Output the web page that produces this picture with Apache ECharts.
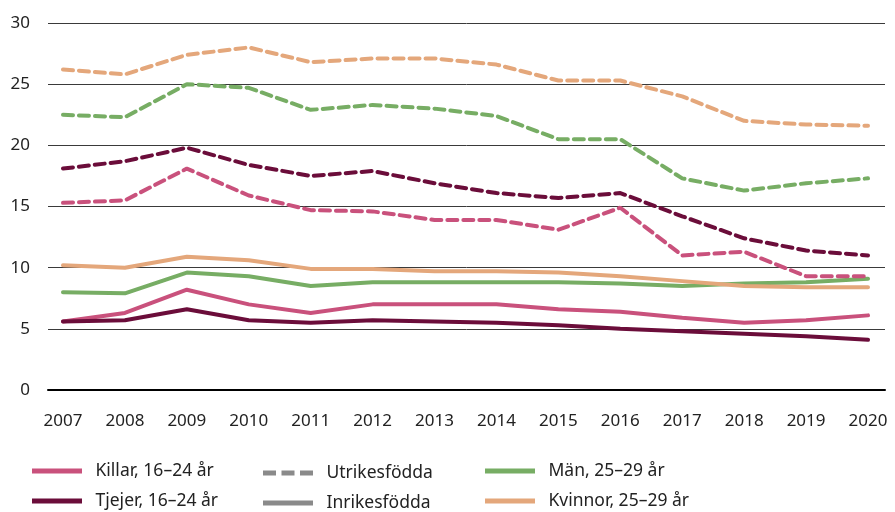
<!DOCTYPE html>
<html>
<head>
<meta charset="utf-8">
<script src="https://cdn.jsdelivr.net/npm/echarts@6/dist/echarts.min.js"></script>
<style>
  html, body { margin: 0; padding: 0; background: #fff; }
  #chart { width: 895px; height: 512px; }
</style>
</head>
<body>
<div id="chart"></div>
<script>
const years = ['2007', '2008', '2009', '2010', '2011', '2012', '2013', '2014', '2015', '2016', '2017', '2018', '2019', '2020'];

// utrikesfödda (dashed)
const killarUtr = [15.3, 15.5, 18.1, 15.9, 14.7, 14.6, 13.9, 13.9, 13.1, 14.9, 11.0, 11.3, 9.3, 9.3];
const tjejerUtr = [18.1, 18.7, 19.8, 18.4, 17.5, 17.9, 16.9, 16.1, 15.7, 16.1, 14.2, 12.4, 11.4, 11.0];
const manUtr = [22.5, 22.3, 25.0, 24.7, 22.9, 23.3, 23.0, 22.4, 20.5, 20.5, 17.3, 16.3, 16.9, 17.3];
const kvinnorUtr = [26.2, 25.8, 27.4, 28.0, 26.8, 27.1, 27.1, 26.6, 25.3, 25.3, 24.0, 22.0, 21.7, 21.6];

// inrikesfödda (solid)
const killarInr = [5.6, 6.3, 8.2, 7.0, 6.3, 7.0, 7.0, 7.0, 6.6, 6.4, 5.9, 5.5, 5.7, 6.1];
const tjejerInr = [5.6, 5.7, 6.6, 5.7, 5.5, 5.7, 5.6, 5.5, 5.3, 5.0, 4.8, 4.6, 4.4, 4.1];
const manInr = [8.0, 7.9, 9.6, 9.3, 8.5, 8.8, 8.8, 8.8, 8.8, 8.7, 8.5, 8.7, 8.8, 9.1];
const kvinnorInr = [10.2, 10.0, 10.9, 10.6, 9.9, 9.9, 9.7, 9.7, 9.6, 9.3, 8.9, 8.5, 8.4, 8.4];

const yTicks = [0, 5, 10, 15, 20, 25, 30];

const pink = '#c9517c';
const wine = '#6b0d3a';
const green = '#77ad64';
const orange = '#e4a77b';
const grey = '#8a8a8a';
const font = '"Noto Sans", "Open Sans", sans-serif';

const solidIcon = 'path://M0,0h50v5h-50z';
const dashIcon = 'path://M0,0h13v5h-13z M18.5,0h13v5h-13z M37,0h13v5h-13z';

function line(name, data, color, dashed) {
  return {
    name: name,
    type: 'line',
    xAxisIndex: 0,
    yAxisIndex: 0,
    data: data,
    symbol: 'none',
    silent: true,
    lineStyle: { color: color, width: 4, type: dashed ? [10, 6] : 'solid', cap: 'round' },
    itemStyle: { color: color }
  };
}

// one legend component per entry, placed in a 3x2 block
function legendItem(left, top, name, icon) {
  return {
    left: left, top: top, itemWidth: 51, itemHeight: 5, itemGap: 0,
    textStyle: { fontSize: 17.5, color: '#222', fontFamily: font, lineHeight: 20, padding: [0, 0, 0, 8] },
    data: [{ name: name, icon: icon }]
  };
}

const chart = echarts.init(document.getElementById('chart'));
chart.setOption({
  animation: false,
  textStyle: { fontFamily: font },
  grid: [
    { left: 63, right: 27, top: 23, bottom: 122 },
    { left: 48, right: 10, top: 23, bottom: 122 }
  ],
  xAxis: [
    {
      gridIndex: 0, type: 'category', data: years, boundaryGap: false,
      axisLine: { show: false }, axisTick: { show: false },
      axisLabel: { color: '#222', fontSize: 17, margin: 23, fontFamily: font }
    },
    {
      gridIndex: 1, type: 'value', min: 0, max: 1,
      axisLine: { show: true, lineStyle: { color: '#000', width: 2 } },
      axisTick: { show: false }, axisLabel: { show: false }, splitLine: { show: false }
    }
  ],
  yAxis: [
    {
      gridIndex: 0, type: 'value', min: 0, max: 30, interval: 5,
      axisLine: { show: false }, axisTick: { show: false },
      axisLabel: { show: false }, splitLine: { show: false }
    },
    {
      gridIndex: 1, type: 'value', min: yTicks[0], max: yTicks[yTicks.length - 1], interval: 5,
      axisLine: { show: false }, axisTick: { show: false },
      axisLabel: { color: '#222', fontSize: 17, margin: 18, fontFamily: font },
      splitLine: { show: true, lineStyle: { color: '#3a3a3a', width: 1 } }
    }
  ],
  legend: [
    legendItem(27, 456, 'Killar, 16–24 år', solidIcon),
    legendItem(27, 486, 'Tjejer, 16–24 år', solidIcon),
    legendItem(258, 458, 'Utrikesfödda', dashIcon),
    legendItem(258, 488, 'Inrikesfödda', solidIcon),
    legendItem(480, 456, 'Män, 25–29 år', solidIcon),
    legendItem(480, 486, 'Kvinnor, 25–29 år', solidIcon)
  ],
  series: [
    line('Killar, 16–24 år', killarInr, pink, false),
    line('Tjejer, 16–24 år', tjejerInr, wine, false),
    line('Män, 25–29 år', manInr, green, false),
    line('Kvinnor, 25–29 år', kvinnorInr, orange, false),
    line('Killar, 16–24 år', killarUtr, pink, true),
    line('Tjejer, 16–24 år', tjejerUtr, wine, true),
    line('Män, 25–29 år', manUtr, green, true),
    line('Kvinnor, 25–29 år', kvinnorUtr, orange, true),
    line('Utrikesfödda', [], grey, true),
    line('Inrikesfödda', [], grey, false)
  ]
});
</script>
</body>
</html>
